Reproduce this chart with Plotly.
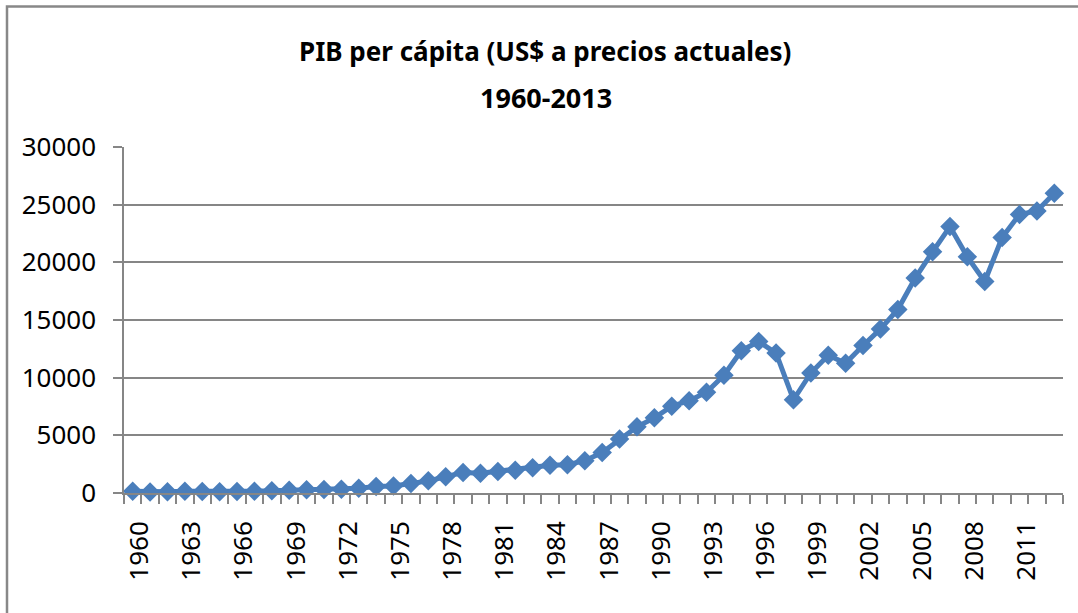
import plotly.graph_objects as go

years = list(range(1960, 2014))
gdp_per_capita = [
    155, 92, 106, 146, 124, 108, 133, 161, 198, 243,
    279, 302, 323, 406, 563, 615, 830, 1052, 1405, 1784,
    1704, 1870, 1978, 2180, 2411, 2457, 2803, 3510, 4686, 5737,
    6516, 7523, 8001, 8741, 10206, 12333, 13137, 12131, 8085, 10409,
    11948, 11253, 12783, 14209, 15908, 18640, 20917, 23102, 20475, 18339,
    22151, 24156, 24454, 25998,
]
title_line1 = "PIB per cápita (US$ a precios actuales)"
title_line2 = "1960-2013"

W, H = 1078, 613
ML, MR, MT, MB = 124, 15, 147, 120
PW = W - ML - MR
PH = H - MT - MB

def py(pix):
    return (H - MB - pix) / PH

def px(pix):
    return (pix - ML) / PW

blue = "#4A7EBB"
grey = "#868686"
font = "Noto Sans"

fig = go.Figure()
fig.add_trace(go.Scatter(
    x=years, y=gdp_per_capita, mode="lines+markers",
    line=dict(color=blue, width=5),
    marker=dict(symbol="diamond", size=15, color=blue),
    showlegend=False, cliponaxis=False, hoverinfo="skip",
))

fig.update_layout(
    width=W, height=H,
    margin=dict(l=ML, r=MR, t=MT, b=MB, autoexpand=False),
    paper_bgcolor="white", plot_bgcolor="white",
    font=dict(family=font, size=26, color="#000000"),
    xaxis=dict(
        range=[1959.5, 2013.5], automargin=False,
        tickmode="linear", tick0=1960, dtick=3,
        tickangle=-90, ticks="", showgrid=False,
        showline=True, linecolor=grey, linewidth=1.5,
        ticklabelshift=7, ticklabelstandoff=16,
        minor=dict(tick0=1959.5, dtick=1, ticks="outside", ticklen=9,
                   tickcolor=grey, tickwidth=1.5, showgrid=False),
        tickfont=dict(family=font, size=26, color="#000000"),
    ),
    yaxis=dict(
        range=[0, 30000], automargin=False,
        tickmode="linear", tick0=0, dtick=5000, tickformat="d",
        showgrid=True, gridcolor=grey, gridwidth=1.5,
        showline=True, linecolor=grey, linewidth=1.5,
        ticks="outside", ticklen=9, tickcolor=grey, tickwidth=1.5,
        ticklabelstandoff=12, zeroline=False,
        tickfont=dict(family=font, size=26, color="#000000"),
    ),
    annotations=[
        dict(text=f"<b>{title_line1}</b>", xref="paper", yref="paper",
             x=px(545), y=py(51), xanchor="center", yanchor="middle",
             showarrow=False, font=dict(family=font, size=26, color="#000000")),
        dict(text=f"<b>{title_line2}</b>", xref="paper", yref="paper",
             x=px(546), y=py(97), xanchor="center", yanchor="middle",
             showarrow=False, font=dict(family=font, size=27, color="#000000")),
    ],
    shapes=[
        dict(type="rect", xref="paper", yref="paper",
             x0=px(7), x1=px(1085), y0=py(620), y1=py(6.5),
             line=dict(color="#888888", width=2.5), fillcolor="rgba(0,0,0,0)",
             layer="above"),
    ],
)

fig.write_html(
    "out.html",
    config={"displayModeBar": False},
    post_script="document.body.style.margin='0px';document.body.style.overflow='hidden';",
)
